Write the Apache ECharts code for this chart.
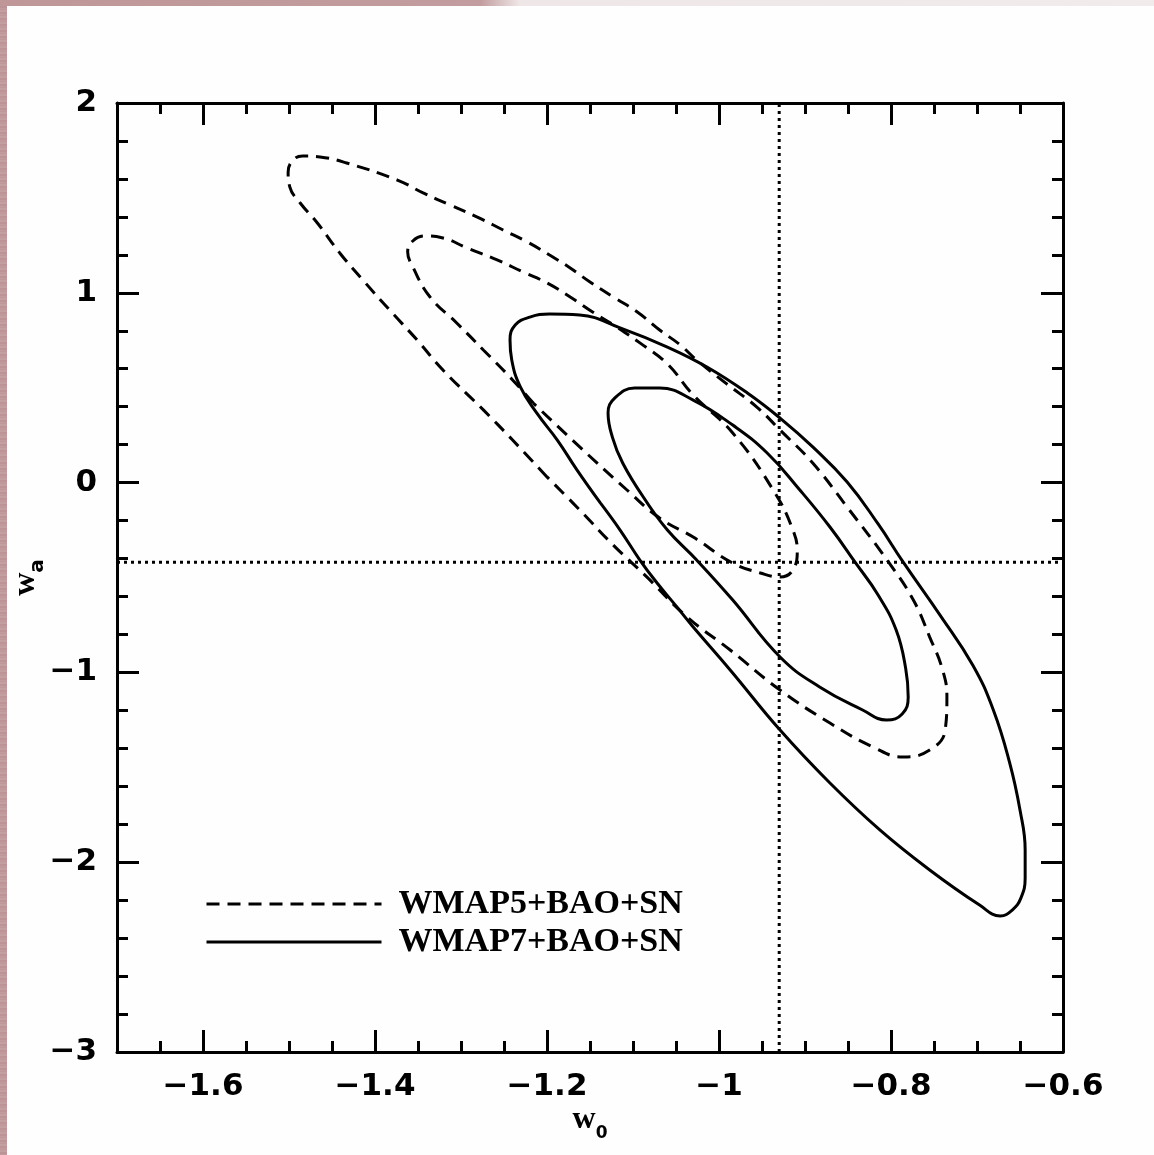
<!DOCTYPE html>
<html>
<head>
<meta charset="utf-8">
<script src="https://cdn.jsdelivr.net/npm/echarts@6/dist/echarts.min.js"></script>
<style>
  html, body { margin: 0; padding: 0; background: #fefefe; }
  #wrap { position: relative; width: 1154px; height: 1155px; overflow: hidden; }
  #chart { position: absolute; left: 0; top: 0; width: 1154px; height: 1155px; }
  .edgeL { position: absolute; left: 0; top: 0; width: 7px; height: 1155px;
           background: repeating-linear-gradient(0deg, #c49fa1 0px, #b98f92 2px, #c7a4a6 4px, #bb9496 6px); }
  .edgeT { position: absolute; left: 0; top: 0; width: 1154px; height: 6px;
           background: linear-gradient(90deg, #bf9799 0px, #c29c9e 480px, #efe7e7 520px, #f1ebeb 1154px); }
</style>
</head>
<body>
<div id="wrap">
  <div class="edgeL"></div>
  <div class="edgeT"></div>
  <div id="chart"></div>
</div>
<script>
// ---- axis ranges and tick labels ----
const xMin = -1.7, xMax = -0.6;
const yMin = -3, yMax = 2;
const xTicks = [-1.6, -1.4, -1.2, -1, -0.8, -0.6];
const yTicks = [-3, -2, -1, 0, 1, 2];

// ---- reference (fiducial) lines ----
const refW0 = -0.93;
const refWa = -0.42;

// ---- legend names ----
const names = ['WMAP5+BAO+SN', 'WMAP7+BAO+SN'];

// ---- contours, [w0, wa] points ----
const wmap5Outer = [
  [-1.200, 0.030], [-1.240, 0.224], [-1.274, 0.383], [-1.321, 0.593], [-1.351, 0.751],
  [-1.383, 0.909], [-1.414, 1.067], [-1.441, 1.210], [-1.467, 1.368], [-1.487, 1.473],
  [-1.499, 1.557], [-1.501, 1.636], [-1.495, 1.700], [-1.484, 1.721], [-1.464, 1.716],
  [-1.433, 1.684], [-1.374, 1.594], [-1.344, 1.526], [-1.313, 1.463], [-1.281, 1.399],
  [-1.251, 1.331], [-1.223, 1.268], [-1.197, 1.199], [-1.173, 1.131], [-1.150, 1.057],
  [-1.123, 0.978], [-1.095, 0.899], [-1.069, 0.804], [-1.045, 0.725], [-1.026, 0.646],
  [-0.991, 0.520], [-0.956, 0.398], [-0.929, 0.277], [-0.891, 0.103], [-0.851, -0.129],
  [-0.803, -0.418], [-0.774, -0.619], [-0.755, -0.814], [-0.740, -0.987], [-0.735, -1.130],
  [-0.737, -1.304], [-0.755, -1.409], [-0.786, -1.446], [-0.821, -1.393], [-0.871, -1.267],
  [-0.929, -1.093], [-0.987, -0.882], [-1.037, -0.708], [-1.084, -0.497], [-1.123, -0.329],
  [-1.162, -0.144]
];
const wmap5Inner = [
  [-1.216, 0.419], [-1.240, 0.541], [-1.274, 0.699], [-1.305, 0.841], [-1.336, 0.978],
  [-1.356, 1.136], [-1.362, 1.215], [-1.356, 1.273], [-1.342, 1.299], [-1.321, 1.289],
  [-1.293, 1.236], [-1.258, 1.173], [-1.228, 1.110], [-1.200, 1.052], [-1.173, 0.978],
  [-1.147, 0.899], [-1.119, 0.820], [-1.092, 0.736], [-1.060, 0.625], [-1.030, 0.462],
  [-0.984, 0.261], [-0.937, -0.039], [-0.914, -0.250], [-0.909, -0.366], [-0.915, -0.466],
  [-0.929, -0.497], [-0.952, -0.476], [-0.984, -0.424], [-1.030, -0.287], [-1.069, -0.187],
  [-1.107, -0.039], [-1.162, 0.188]
];
const wmap7Outer = [
  [-1.138, -0.107], [-1.165, 0.066], [-1.188, 0.224], [-1.212, 0.367], [-1.231, 0.504],
  [-1.241, 0.646], [-1.243, 0.751], [-1.237, 0.830], [-1.220, 0.872], [-1.197, 0.888],
  [-1.162, 0.883], [-1.115, 0.815], [-1.060, 0.714], [-1.014, 0.609], [-0.967, 0.472],
  [-0.929, 0.340], [-0.891, 0.188], [-0.851, 0.003], [-0.815, -0.218], [-0.786, -0.418],
  [-0.743, -0.698], [-0.705, -0.961], [-0.681, -1.198], [-0.662, -1.477], [-0.650, -1.725],
  [-0.644, -1.936], [-0.644, -2.083], [-0.649, -2.189], [-0.659, -2.252], [-0.673, -2.283],
  [-0.697, -2.226], [-0.755, -2.041], [-0.813, -1.830], [-0.871, -1.583], [-0.929, -1.304],
  [-0.987, -0.987], [-1.030, -0.761], [-1.049, -0.655], [-1.072, -0.529], [-1.092, -0.408],
  [-1.115, -0.250]
];
const wmap7Inner = [
  [-1.088, -0.076], [-1.112, 0.103], [-1.124, 0.240], [-1.129, 0.367], [-1.121, 0.446],
  [-1.098, 0.498], [-1.069, 0.498], [-1.030, 0.435], [-0.984, 0.303], [-0.944, 0.156],
  [-0.906, -0.039], [-0.871, -0.234], [-0.842, -0.418], [-0.815, -0.592], [-0.794, -0.777],
  [-0.783, -0.977], [-0.780, -1.130], [-0.787, -1.219], [-0.805, -1.251], [-0.833, -1.198],
  [-0.883, -1.077], [-0.929, -0.919], [-0.984, -0.619], [-1.026, -0.408], [-1.060, -0.250]
];

const closeLoop = pts => pts.concat([pts[0]]);
const fmt = v => String(v).replace('-', '\u2212');

const tickFont = { fontFamily: 'DejaVu Sans', fontWeight: 'bold', fontSize: 31, color: '#000' };
const LW = 3;
const gridBox = { left: 117, right: 91, top: 103, bottom: 103, containLabel: false, outerBoundsMode: 'none' };

const majorX = (pos, showLabel) => ({
  type: 'value', gridIndex: 0, position: pos, min: xMin, max: xMax,
  axisLine: { show: true, onZero: false, lineStyle: { color: '#000', width: LW } },
  axisTick: { show: true, inside: true, length: 22, customValues: xTicks, lineStyle: { color: '#000', width: LW } },
  axisLabel: Object.assign({ show: showLabel, margin: 19, customValues: xTicks, formatter: fmt }, tickFont),
  splitLine: { show: false }
});
const minorX = (pos) => ({
  type: 'value', gridIndex: 1, position: pos, min: xMin, max: xMax, interval: 0.05,
  axisLine: { show: false, onZero: false },
  axisTick: { show: true, inside: true, length: 11, lineStyle: { color: '#000', width: LW } },
  axisLabel: { show: false },
  splitLine: { show: false }
});
const yAx = (pos, showLabel, gi) => ({
  type: 'value', gridIndex: gi, position: pos, min: yMin, max: yMax, interval: 1,
  axisLine: { show: gi === 0, onZero: false, lineStyle: { color: '#000', width: LW } },
  axisTick: { show: gi === 0, inside: true, length: 22, lineStyle: { color: '#000', width: LW } },
  minorTick: { show: gi === 0, splitNumber: 5, length: 11, lineStyle: { color: '#000', width: LW } },
  axisLabel: Object.assign({ show: showLabel, margin: 20, formatter: fmt }, tickFont),
  splitLine: { show: false }, minorSplitLine: { show: false }
});

const subRich = (letterSize) => ({
  w: { fontFamily: 'Liberation Serif', fontWeight: 'bold', fontSize: 32, color: '#000', verticalAlign: 'top', lineHeight: 30 },
  s: { fontFamily: 'DejaVu Sans', fontWeight: 'bold', fontSize: letterSize, color: '#000', verticalAlign: 'bottom', lineHeight: 38 }
});

const xAxis0 = majorX('bottom', true);
xAxis0.name = '{w|w}{s|0}';
xAxis0.nameLocation = 'middle';
xAxis0.nameGap = 52;
xAxis0.nameMoveOverlap = false;
xAxis0.nameTextStyle = { rich: subRich(17) };

const yAxis0 = yAx('left', true, 0);
yAxis0.name = '{w|w}{s|a}';
yAxis0.nameLocation = 'middle';
yAxis0.nameGap = 69;
yAxis0.nameRotate = 90;
yAxis0.nameMoveOverlap = false;
yAxis0.nameTextStyle = { rich: subRich(20) };

const contour = (name, pts, dashed) => ({
  type: 'line', name: name, xAxisIndex: 0, yAxisIndex: 0,
  data: closeLoop(pts), smooth: 0.45, symbol: 'none', showSymbol: false,
  lineStyle: { color: '#000', width: LW, type: dashed ? [13, 8] : 'solid' },
  itemStyle: { color: '#000' },
  silent: true, animation: false, z: 3
});
const refLine = (pts) => ({
  type: 'line', xAxisIndex: 0, yAxisIndex: 0, data: pts, symbol: 'none',
  lineStyle: { color: '#000', width: 3, type: [3, 4] }, silent: true, animation: false, z: 2
});

const chart = echarts.init(document.getElementById('chart'), null, { renderer: 'canvas' });
chart.setOption({
  animation: false,
  grid: [Object.assign({}, gridBox), Object.assign({}, gridBox)],
  xAxis: [xAxis0, majorX('top', false), minorX('bottom'), minorX('top')],
  yAxis: [yAxis0, yAx('right', false, 0), yAx('left', false, 1)],
  legend: {
    data: names, orient: 'vertical', left: 200, top: 880,
    itemWidth: 175, itemHeight: 20, itemGap: 0,
    itemStyle: { color: 'rgba(0,0,0,0)', borderWidth: 0, opacity: 0 },
    lineStyle: { width: 3 },
    textStyle: { fontFamily: 'Liberation Serif', fontWeight: 'bold', fontSize: 34, color: '#000', lineHeight: 38, padding: [0, 0, 0, 12] },
    selectedMode: false
  },
  series: [
    contour(names[0], wmap5Outer, true),
    contour(names[0], wmap5Inner, true),
    contour(names[1], wmap7Outer, false),
    contour(names[1], wmap7Inner, false),
    refLine([[refW0, yMin], [refW0, yMax]]),
    refLine([[xMin, refWa], [xMax, refWa]])
  ]
});
</script>
</body>
</html>
